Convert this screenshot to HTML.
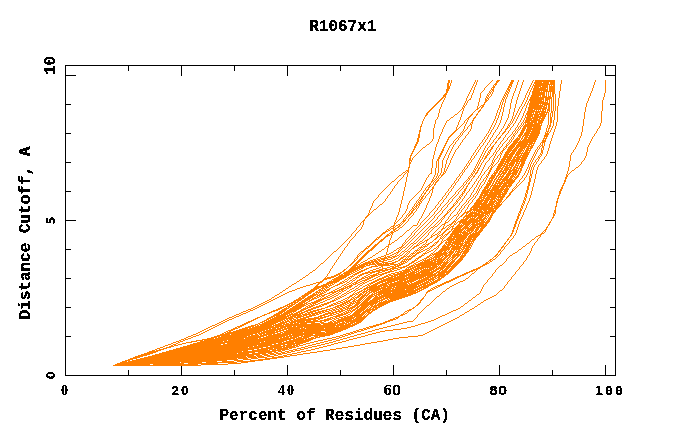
<!DOCTYPE html>
<html><head><meta charset="utf-8"><title>R1067x1</title>
<style>
html,body{margin:0;padding:0;background:#fff;}
body{width:680px;height:440px;overflow:hidden;}
svg{display:block;}
text{fill:#000;font-weight:bold;}
.m{font-family:"Liberation Mono",monospace;font-size:16px;}
</style></head><body>
<svg width="680" height="440" viewBox="0 0 680 440">
<defs><filter id="bw" x="-5%" y="-5%" width="110%" height="110%" color-interpolation-filters="sRGB"><feComponentTransfer><feFuncA type="discrete" tableValues="0 0 1 1 1 1"/></feComponentTransfer></filter><filter id="bw2" x="-5%" y="-5%" width="110%" height="110%" color-interpolation-filters="sRGB"><feComponentTransfer><feFuncA type="discrete" tableValues="0 0 0 1 1 1 1 1"/></feComponentTransfer></filter></defs>
<rect width="680" height="440" fill="#fff"/>
<g fill="none" stroke="#000" stroke-width="1" shape-rendering="crispEdges"><path d="M65.5 65.5H615.5V375.5H65.5ZM128.5 375.5v-5.5M128.5 65.5v5.5M181.5 375.5v-10.5M181.5 65.5v10.5M234.5 375.5v-5.5M234.5 65.5v5.5M287.5 375.5v-10.5M287.5 65.5v10.5M340.5 375.5v-5.5M340.5 65.5v5.5M393.5 375.5v-10.5M393.5 65.5v10.5M446.5 375.5v-5.5M446.5 65.5v5.5M499.5 375.5v-10.5M499.5 65.5v10.5M552.5 375.5v-5.5M552.5 65.5v5.5M605.5 375.5v-10.5M605.5 65.5v10.5M65.5 75.5h10.5M615.5 75.5h-10.5M65.5 104.5h5.5M615.5 104.5h-5.5M65.5 133.5h5.5M615.5 133.5h-5.5M65.5 162.5h5.5M615.5 162.5h-5.5M65.5 191.5h5.5M615.5 191.5h-5.5M65.5 220.5h10.5M615.5 220.5h-10.5M65.5 249.5h5.5M615.5 249.5h-5.5M65.5 278.5h5.5M615.5 278.5h-5.5M65.5 307.5h5.5M615.5 307.5h-5.5M65.5 336.5h5.5M615.5 336.5h-5.5"/></g>
<g fill="none" stroke="#ff7f00" stroke-width="1" shape-rendering="crispEdges" stroke-linejoin="bevel">
<path d="M448 80.5h2m1 0h1m23 0h1m1 0h1m14 0h1m4 0h3m11 0h3m4 0h1m4 0h1m9 0h1m1 0h20m6 0h1m33 0h1m9 0h1M448 81.5h2m1 0h1m23 0h1m1 0h1m13 0h1m4 0h3m12 0h3m4 0h1m4 0h1m8 0h1m2 0h20m6 0h1m33 0h1m9 0h1M448 82.5h2m1 0h1m22 0h1m1 0h1m13 0h1m5 0h2m12 0h3m4 0h1m4 0h1m9 0h1m1 0h8m1 0h6m1 0h5m6 0h1m32 0h1m10 0h1M447 83.5h2m1 0h1m23 0h1m1 0h1m12 0h1m5 0h2m13 0h3m4 0h1m4 0h1m8 0h1m2 0h15m1 0h5m6 0h1m32 0h1m10 0h1M447 84.5h2m1 0h1m22 0h1m2 0h1m11 0h1m5 0h3m12 0h3m5 0h1m4 0h1m8 0h1m1 0h1m1 0h20m5 0h1m33 0h1m10 0h1M447 85.5h2m1 0h1m22 0h1m1 0h1m11 0h1m5 0h1m1 0h1m13 0h3m4 0h1m4 0h1m8 0h1m2 0h15m1 0h1m1 0h1m1 0h2m5 0h1m32 0h1m11 0h1M447 86.5h3m22 0h1m2 0h1m10 0h1m6 0h2m13 0h2m1 0h1m4 0h1m4 0h1m8 0h1m1 0h1m1 0h7m1 0h6m1 0h6m5 0h1m32 0h1m11 0h1M447 87.5h3m22 0h1m1 0h1m10 0h1m6 0h3m13 0h3m5 0h1m4 0h1m7 0h1m2 0h1m1 0h5m1 0h8m1 0h6m5 0h1m32 0h1m11 0h1M447 88.5h3m21 0h1m2 0h1m9 0h1m6 0h1m1 0h1m13 0h2m1 0h1m4 0h1m4 0h1m8 0h1m1 0h1m1 0h13m1 0h1m1 0h6m5 0h1m31 0h1m12 0h1M446 89.5h3m22 0h1m2 0h1m9 0h1m6 0h3m13 0h3m5 0h1m4 0h1m7 0h1m2 0h1m1 0h15m1 0h6m5 0h1m31 0h1m12 0h1M446 90.5h3m21 0h1m2 0h1m9 0h1m6 0h1m1 0h2m12 0h1m1 0h2m5 0h1m4 0h1m7 0h1m1 0h1m2 0h15m1 0h6m5 0h1m31 0h1m12 0h1M446 91.5h2m22 0h1m2 0h1m8 0h1m6 0h1m1 0h1m1 0h1m12 0h2m1 0h1m4 0h1m4 0h1m7 0h1m2 0h1m1 0h8m1 0h1m1 0h12m4 0h1m31 0h1m13 0h1M446 92.5h2m21 0h1m3 0h1m7 0h1m7 0h2m1 0h1m12 0h1m1 0h2m5 0h1m4 0h1m7 0h1m1 0h1m2 0h13m1 0h1m1 0h1m1 0h1m1 0h3m4 0h1m31 0h1m13 0h1M445 93.5h2m22 0h1m2 0h1m7 0h1m7 0h1m1 0h1m1 0h1m12 0h2m1 0h1m4 0h1m5 0h1m6 0h1m2 0h1m2 0h13m1 0h1m1 0h1m1 0h1m1 0h3m4 0h1m30 0h1m13 0h1M444 94.5h3m21 0h1m3 0h1m7 0h1m6 0h1m1 0h1m1 0h1m12 0h1m1 0h2m5 0h1m4 0h1m7 0h1m2 0h1m2 0h13m1 0h1m1 0h1m1 0h1m1 0h2m1 0h1m3 0h1m30 0h1m13 0h1M443 95.5h3m22 0h1m2 0h1m8 0h1m6 0h2m2 0h1m12 0h2m1 0h1m5 0h1m4 0h1m6 0h1m2 0h1m2 0h10m1 0h3m1 0h1m1 0h1m1 0h1m1 0h2m1 0h1m3 0h1m30 0h1m13 0h1M443 96.5h3m21 0h1m3 0h1m8 0h1m5 0h1m1 0h1m1 0h1m12 0h1m1 0h1m1 0h1m4 0h1m5 0h1m6 0h1m2 0h1m2 0h8m1 0h1m1 0h5m1 0h3m1 0h2m1 0h1m3 0h1m29 0h1m14 0h1M442 97.5h2m1 0h1m21 0h1m3 0h1m8 0h1m5 0h2m1 0h1m13 0h2m1 0h1m5 0h1m4 0h1m7 0h1m1 0h1m2 0h22m1 0h1m1 0h1m3 0h1m29 0h1m13 0h1M441 98.5h2m1 0h1m21 0h1m3 0h1m8 0h1m5 0h1m1 0h2m13 0h1m1 0h1m1 0h1m5 0h1m4 0h1m6 0h1m2 0h1m2 0h14m1 0h7m1 0h1m1 0h1m2 0h1m29 0h1m14 0h1M440 99.5h2m2 0h1m21 0h1m2 0h2m8 0h1m5 0h2m1 0h1m13 0h2m1 0h1m5 0h1m5 0h1m6 0h1m2 0h1m1 0h15m1 0h5m1 0h1m1 0h1m1 0h1m2 0h1m29 0h1m14 0h1M439 100.5h2m2 0h1m22 0h1m1 0h1m10 0h1m5 0h3m13 0h1m1 0h1m1 0h1m5 0h1m4 0h1m6 0h1m2 0h1m2 0h13m1 0h1m1 0h3m1 0h1m1 0h1m1 0h1m1 0h1m2 0h1m29 0h1m13 0h1M438 101.5h2m3 0h1m21 0h1m1 0h1m11 0h1m5 0h2m14 0h1m1 0h1m1 0h1m5 0h1m4 0h1m6 0h1m2 0h1m1 0h1m1 0h14m1 0h1m1 0h1m1 0h1m1 0h1m1 0h1m1 0h1m2 0h1m28 0h1m14 0h1M437 102.5h2m3 0h1m22 0h1m1 0h1m10 0h1m5 0h2m14 0h1m1 0h1m2 0h1m5 0h1m4 0h1m5 0h1m2 0h1m2 0h1m1 0h18m1 0h1m1 0h1m1 0h1m1 0h1m2 0h1m28 0h1m14 0h1M436 103.5h2m4 0h1m21 0h1m1 0h1m11 0h1m5 0h1m15 0h1m1 0h1m1 0h1m5 0h1m5 0h1m5 0h1m2 0h1m1 0h1m1 0h21m1 0h1m1 0h1m1 0h1m2 0h1m27 0h1m15 0h1M435 104.5h2m4 0h1m22 0h1m1 0h1m11 0h1m4 0h2m15 0h1m1 0h1m1 0h1m5 0h1m4 0h1m5 0h1m2 0h1m2 0h1m1 0h10m1 0h1m1 0h8m1 0h1m1 0h1m1 0h1m2 0h1m27 0h1m15 0h1M434 105.5h2m5 0h1m21 0h1m1 0h1m12 0h1m2 0h3m15 0h1m1 0h1m2 0h1m5 0h1m4 0h1m5 0h1m2 0h1m1 0h1m2 0h14m1 0h3m1 0h2m1 0h1m1 0h1m1 0h1m2 0h1m27 0h1m15 0h1M433 106.5h2m6 0h1m21 0h2m12 0h1m2 0h1m1 0h2m15 0h1m1 0h1m2 0h1m5 0h1m4 0h1m4 0h1m2 0h1m2 0h1m2 0h16m1 0h1m1 0h2m1 0h1m1 0h1m1 0h1m1 0h1m28 0h1m15 0h1M432 107.5h2m6 0h1m21 0h1m1 0h1m12 0h1m1 0h1m1 0h2m16 0h1m1 0h1m1 0h1m6 0h1m4 0h1m3 0h1m2 0h1m3 0h1m1 0h14m1 0h4m1 0h2m1 0h1m1 0h1m1 0h1m1 0h1m27 0h1m16 0h1M431 108.5h2m7 0h1m21 0h2m13 0h2m2 0h1m16 0h1m2 0h1m1 0h1m6 0h1m3 0h1m4 0h1m2 0h1m2 0h1m2 0h19m1 0h2m1 0h1m1 0h1m1 0h1m1 0h1m27 0h1m16 0h1M430 109.5h2m7 0h1m21 0h1m1 0h1m12 0h2m2 0h1m17 0h1m1 0h1m2 0h1m5 0h1m4 0h1m3 0h1m2 0h1m3 0h1m2 0h5m1 0h7m1 0h4m1 0h3m1 0h1m1 0h1m1 0h1m1 0h1m27 0h1m16 0h1M429 110.5h2m8 0h1m20 0h1m2 0h1m11 0h1m3 0h2m16 0h1m2 0h1m2 0h1m5 0h1m4 0h1m3 0h1m2 0h1m3 0h1m2 0h7m1 0h1m1 0h1m1 0h1m1 0h2m1 0h1m1 0h3m1 0h1m1 0h1m1 0h1m1 0h1m27 0h1m16 0h1M428 111.5h2m9 0h1m19 0h1m2 0h1m11 0h1m3 0h2m17 0h1m2 0h1m2 0h1m5 0h1m4 0h1m2 0h1m2 0h1m3 0h1m2 0h19m1 0h1m1 0h1m1 0h2m1 0h1m2 0h1m27 0h1m15 0h1M427 112.5h2m10 0h1m18 0h1m3 0h1m10 0h1m4 0h1m18 0h1m1 0h1m2 0h1m6 0h1m3 0h1m3 0h1m2 0h1m3 0h1m2 0h7m1 0h5m1 0h8m2 0h2m1 0h1m2 0h1m26 0h1m16 0h1M426 113.5h2m10 0h1m18 0h1m4 0h1m9 0h1m4 0h1m18 0h1m2 0h1m2 0h1m6 0h1m3 0h1m2 0h1m2 0h1m3 0h1m2 0h6m1 0h1m1 0h3m1 0h6m1 0h1m1 0h1m1 0h1m1 0h1m1 0h1m2 0h1m26 0h1m16 0h1M426 114.5h2m10 0h1m16 0h2m4 0h1m9 0h2m3 0h2m18 0h1m2 0h1m2 0h1m5 0h1m4 0h1m2 0h1m2 0h1m3 0h1m2 0h21m1 0h1m1 0h1m1 0h1m1 0h1m2 0h1m26 0h1m16 0h1M425 115.5h2m11 0h1m15 0h1m6 0h1m8 0h2m4 0h1m19 0h1m1 0h1m3 0h1m5 0h1m4 0h1m1 0h1m2 0h1m4 0h1m1 0h1m1 0h6m1 0h5m1 0h6m2 0h1m1 0h1m1 0h1m1 0h1m2 0h1m26 0h1m16 0h1M425 116.5h1m12 0h1m14 0h1m7 0h1m7 0h2m4 0h1m19 0h1m2 0h1m2 0h1m6 0h1m3 0h1m2 0h1m2 0h1m3 0h1m2 0h1m1 0h6m1 0h12m2 0h1m1 0h1m1 0h1m1 0h1m2 0h1m26 0h1m16 0h1M424 117.5h1m12 0h1m13 0h2m7 0h1m7 0h2m4 0h2m19 0h1m2 0h1m2 0h1m6 0h1m3 0h1m1 0h1m2 0h1m4 0h1m2 0h6m1 0h9m1 0h3m3 0h1m1 0h2m2 0h1m2 0h1m26 0h1m16 0h1M424 118.5h1m12 0h1m12 0h1m9 0h1m6 0h2m4 0h2m20 0h1m1 0h1m3 0h1m5 0h1m4 0h1m1 0h1m2 0h1m3 0h1m2 0h1m1 0h12m1 0h6m3 0h1m1 0h2m2 0h1m2 0h1m26 0h1m16 0h1M423 119.5h1m12 0h1m12 0h1m10 0h1m5 0h1m1 0h1m4 0h1m20 0h1m2 0h1m3 0h1m5 0h1m3 0h1m1 0h1m2 0h1m4 0h1m2 0h1m1 0h6m1 0h7m1 0h3m4 0h1m1 0h2m2 0h1m2 0h1m25 0h1m17 0h1M423 120.5h1m11 0h1m11 0h2m10 0h1m5 0h1m1 0h1m4 0h2m20 0h1m1 0h1m3 0h1m5 0h1m4 0h1m1 0h1m2 0h1m3 0h1m2 0h1m1 0h19m4 0h1m1 0h2m1 0h1m3 0h1m25 0h1m17 0h1M422 121.5h1m12 0h1m10 0h1m12 0h1m4 0h1m2 0h1m4 0h1m20 0h1m2 0h1m3 0h1m5 0h1m3 0h1m1 0h1m2 0h1m4 0h1m2 0h1m1 0h5m1 0h6m1 0h5m5 0h1m1 0h2m1 0h1m3 0h1m25 0h1m17 0h1M422 122.5h1m12 0h1m10 0h1m11 0h1m5 0h1m1 0h1m4 0h2m20 0h1m2 0h1m3 0h1m4 0h1m4 0h1m1 0h1m2 0h1m3 0h1m2 0h1m1 0h13m1 0h5m5 0h1m1 0h2m1 0h1m2 0h1m26 0h1m17 0h1M422 123.5h1m12 0h1m9 0h1m12 0h1m4 0h1m2 0h1m3 0h1m1 0h1m19 0h1m2 0h1m3 0h1m5 0h1m3 0h1m1 0h1m2 0h1m3 0h1m2 0h1m1 0h1m1 0h1m1 0h6m1 0h8m6 0h1m1 0h1m2 0h1m2 0h1m26 0h1m16 0h1M421 124.5h1m12 0h1m10 0h1m12 0h1m3 0h1m2 0h1m4 0h2m20 0h1m2 0h1m3 0h1m4 0h1m3 0h1m1 0h1m2 0h1m4 0h1m2 0h1m1 0h1m1 0h15m1 0h1m6 0h1m1 0h1m2 0h1m2 0h1m26 0h1m16 0h1M421 125.5h1m12 0h1m9 0h1m12 0h1m3 0h1m3 0h1m3 0h1m1 0h1m19 0h1m2 0h1m3 0h1m5 0h1m3 0h2m3 0h1m3 0h1m2 0h1m1 0h1m1 0h18m5 0h1m1 0h2m2 0h1m2 0h1m26 0h1m16 0h1M420 126.5h2m12 0h1m9 0h1m12 0h1m2 0h1m3 0h1m3 0h1m2 0h1m19 0h1m2 0h1m3 0h1m4 0h1m3 0h1m1 0h1m2 0h1m4 0h1m1 0h1m1 0h1m1 0h18m6 0h1m1 0h2m1 0h1m2 0h1m26 0h1m16 0h1M420 127.5h1m13 0h1m8 0h1m12 0h1m2 0h1m4 0h1m2 0h1m3 0h1m18 0h1m2 0h1m3 0h1m5 0h1m3 0h2m2 0h1m4 0h1m1 0h1m1 0h1m2 0h3m1 0h5m1 0h8m6 0h1m1 0h1m2 0h1m2 0h1m26 0h1m16 0h1M420 128.5h1m12 0h1m9 0h1m12 0h1m1 0h1m5 0h1m2 0h1m3 0h1m18 0h1m2 0h1m3 0h1m4 0h1m3 0h2m2 0h1m4 0h1m2 0h1m1 0h1m1 0h4m1 0h14m5 0h1m1 0h2m1 0h1m3 0h1m26 0h1m15 0h1M420 129.5h1m12 0h1m8 0h1m13 0h2m5 0h1m2 0h1m3 0h1m18 0h1m2 0h1m3 0h1m4 0h1m3 0h2m3 0h1m4 0h1m1 0h1m1 0h1m2 0h3m1 0h15m5 0h1m1 0h1m2 0h1m2 0h1m27 0h1m14 0h1M419 130.5h2m12 0h1m8 0h1m12 0h2m6 0h1m1 0h1m4 0h1m18 0h1m1 0h1m3 0h1m5 0h1m3 0h1m3 0h1m4 0h1m1 0h1m1 0h1m2 0h4m1 0h5m1 0h8m6 0h1m1 0h1m1 0h1m3 0h1m27 0h1m14 0h1M419 131.5h2m12 0h1m8 0h1m11 0h2m6 0h1m1 0h1m4 0h1m18 0h1m2 0h1m3 0h1m4 0h1m3 0h2m2 0h1m4 0h1m1 0h1m1 0h1m3 0h3m2 0h14m6 0h3m1 0h1m3 0h1m27 0h1m13 0h1M419 132.5h1m13 0h1m7 0h1m11 0h2m6 0h1m1 0h1m4 0h1m19 0h1m1 0h1m3 0h1m4 0h1m3 0h2m3 0h1m3 0h1m2 0h1m1 0h1m2 0h4m1 0h5m1 0h9m5 0h1m1 0h1m1 0h1m3 0h1m27 0h1m14 0h1M419 133.5h1m13 0h1m7 0h1m10 0h2m6 0h1m1 0h1m5 0h1m18 0h1m2 0h1m2 0h1m5 0h1m2 0h2m3 0h1m4 0h1m1 0h1m1 0h1m3 0h3m1 0h16m5 0h4m4 0h1m27 0h1m13 0h1M418 134.5h2m13 0h1m6 0h1m10 0h2m7 0h1m1 0h1m4 0h1m18 0h1m2 0h1m3 0h1m4 0h1m3 0h1m3 0h1m4 0h1m1 0h1m1 0h1m3 0h4m1 0h5m1 0h9m6 0h4m4 0h1m27 0h1m12 0h1M418 135.5h2m13 0h1m6 0h1m9 0h2m7 0h1m1 0h1m4 0h1m19 0h1m1 0h1m3 0h1m4 0h1m3 0h1m3 0h1m4 0h1m2 0h2m3 0h4m1 0h16m5 0h4m4 0h1m28 0h1m12 0h1M418 136.5h2m13 0h1m5 0h1m9 0h2m7 0h1m1 0h1m4 0h1m19 0h1m2 0h1m3 0h1m3 0h1m3 0h1m4 0h1m3 0h1m2 0h1m1 0h1m3 0h3m1 0h2m1 0h3m1 0h9m6 0h4m4 0h1m27 0h1m12 0h1M418 137.5h2m13 0h1m5 0h1m8 0h2m7 0h1m1 0h1m5 0h1m18 0h1m2 0h1m3 0h1m4 0h1m2 0h2m3 0h1m3 0h1m2 0h1m1 0h1m3 0h1m1 0h2m1 0h1m1 0h14m6 0h1m1 0h1m5 0h1m27 0h1m11 0h1M417 138.5h2m14 0h1m5 0h1m8 0h1m7 0h1m1 0h1m5 0h1m19 0h1m2 0h1m2 0h1m4 0h1m2 0h2m3 0h1m3 0h1m3 0h1m1 0h1m2 0h4m1 0h2m1 0h3m1 0h9m6 0h4m4 0h1m27 0h1m12 0h1M417 139.5h2m13 0h1m5 0h1m8 0h2m6 0h1m2 0h1m4 0h1m19 0h1m2 0h1m3 0h1m3 0h1m3 0h1m4 0h1m3 0h1m2 0h1m1 0h1m2 0h5m1 0h1m1 0h14m6 0h1m1 0h1m5 0h1m27 0h1m11 0h1M417 140.5h2m13 0h1m5 0h1m8 0h1m6 0h1m2 0h1m4 0h1m19 0h1m2 0h1m3 0h1m3 0h1m3 0h1m4 0h1m3 0h1m2 0h1m1 0h1m2 0h5m1 0h1m1 0h14m6 0h4m5 0h1m27 0h1m11 0h1M417 141.5h2m12 0h1m6 0h1m7 0h2m5 0h1m2 0h1m5 0h1m19 0h1m2 0h1m3 0h1m3 0h1m2 0h1m4 0h1m3 0h1m3 0h1m1 0h1m1 0h5m1 0h17m6 0h4m4 0h1m27 0h1m11 0h1M416 142.5h2m12 0h1m6 0h1m8 0h1m6 0h1m1 0h1m5 0h1m19 0h1m2 0h1m3 0h1m3 0h1m2 0h2m3 0h1m3 0h1m3 0h1m1 0h1m2 0h20m1 0h1m6 0h4m5 0h1m27 0h1m11 0h1M416 143.5h2m11 0h1m7 0h1m7 0h2m5 0h1m2 0h1m4 0h1m19 0h1m2 0h1m3 0h1m3 0h1m3 0h1m4 0h1m2 0h1m3 0h1m1 0h1m2 0h5m1 0h10m1 0h6m5 0h1m1 0h1m1 0h1m5 0h1m26 0h1m11 0h1M415 144.5h2m10 0h2m7 0h1m8 0h1m5 0h1m2 0h1m5 0h1m18 0h1m3 0h1m3 0h1m2 0h1m3 0h1m4 0h1m2 0h1m3 0h1m1 0h1m2 0h5m1 0h15m1 0h1m6 0h1m1 0h1m1 0h1m4 0h1m27 0h1m11 0h1M415 145.5h2m9 0h1m9 0h1m7 0h2m4 0h1m2 0h1m5 0h1m19 0h1m2 0h1m3 0h1m3 0h1m2 0h1m4 0h1m3 0h1m3 0h2m2 0h5m1 0h11m1 0h2m1 0h3m5 0h1m1 0h2m1 0h1m4 0h1m26 0h1m11 0h1M414 146.5h2m9 0h1m10 0h1m7 0h1m4 0h1m3 0h1m4 0h1m19 0h1m2 0h1m3 0h1m3 0h1m2 0h2m4 0h1m2 0h1m3 0h2m2 0h6m1 0h17m5 0h1m1 0h1m1 0h2m5 0h1m26 0h1m11 0h1M414 147.5h2m7 0h2m10 0h1m7 0h2m4 0h1m2 0h1m5 0h1m18 0h1m2 0h1m4 0h1m2 0h1m2 0h2m4 0h1m2 0h1m3 0h1m1 0h1m1 0h6m1 0h4m1 0h6m1 0h2m1 0h3m4 0h1m1 0h1m2 0h2m5 0h1m25 0h1m11 0h1M414 148.5h1m7 0h1m12 0h1m7 0h1m4 0h1m3 0h1m4 0h1m19 0h1m2 0h1m3 0h1m2 0h1m3 0h2m3 0h1m2 0h1m3 0h1m1 0h1m2 0h5m1 0h4m1 0h6m1 0h6m5 0h1m1 0h1m1 0h1m1 0h1m4 0h1m26 0h1m11 0h1M413 149.5h2m6 0h1m13 0h1m6 0h2m4 0h1m2 0h1m4 0h1m19 0h1m2 0h1m4 0h1m2 0h1m2 0h2m4 0h1m2 0h1m3 0h2m2 0h5m1 0h4m1 0h5m1 0h1m1 0h3m1 0h1m5 0h1m1 0h1m2 0h1m1 0h1m4 0h1m25 0h1m12 0h1M413 150.5h1m6 0h1m14 0h1m6 0h2m3 0h1m3 0h1m3 0h1m19 0h1m2 0h1m4 0h1m2 0h1m2 0h2m4 0h1m2 0h1m3 0h2m3 0h10m1 0h6m1 0h6m4 0h1m1 0h1m3 0h2m5 0h1m24 0h1m13 0h1M412 151.5h2m5 0h1m14 0h1m6 0h2m4 0h1m2 0h1m4 0h1m19 0h1m2 0h1m4 0h1m1 0h1m2 0h1m1 0h1m4 0h1m1 0h1m3 0h2m3 0h5m1 0h4m1 0h5m1 0h1m1 0h3m1 0h1m5 0h1m1 0h1m3 0h2m4 0h1m25 0h1m13 0h1M412 152.5h1m5 0h1m15 0h1m6 0h2m3 0h1m3 0h1m3 0h1m19 0h1m2 0h1m4 0h1m2 0h1m2 0h2m4 0h1m1 0h1m3 0h1m1 0h1m2 0h5m1 0h4m1 0h5m1 0h1m1 0h6m4 0h1m1 0h1m4 0h2m4 0h1m24 0h1m13 0h1M411 153.5h2m4 0h1m16 0h1m5 0h2m4 0h1m2 0h1m4 0h1m18 0h1m2 0h1m5 0h1m1 0h1m2 0h1m1 0h1m3 0h1m2 0h1m3 0h2m3 0h4m1 0h5m1 0h13m5 0h1m1 0h1m3 0h1m1 0h1m4 0h1m23 0h1m14 0h1M411 154.5h1m4 0h1m17 0h1m5 0h2m3 0h1m3 0h1m3 0h1m19 0h1m2 0h1m4 0h1m2 0h1m2 0h2m4 0h1m1 0h1m3 0h1m1 0h1m2 0h10m1 0h5m1 0h1m1 0h6m4 0h1m1 0h1m4 0h2m4 0h1m24 0h1m14 0h1M410 155.5h2m3 0h1m17 0h1m5 0h2m4 0h1m2 0h1m4 0h1m18 0h1m2 0h1m5 0h1m1 0h1m2 0h2m4 0h1m2 0h1m2 0h1m1 0h1m3 0h4m1 0h4m2 0h4m1 0h8m5 0h1m1 0h1m3 0h1m1 0h1m4 0h1m23 0h1m15 0h1M410 156.5h1m3 0h1m18 0h1m5 0h2m3 0h1m3 0h1m3 0h1m18 0h1m2 0h1m5 0h1m2 0h1m1 0h2m4 0h1m2 0h1m2 0h1m2 0h1m2 0h10m1 0h2m1 0h4m1 0h6m4 0h1m1 0h1m3 0h1m1 0h1m4 0h1m24 0h1m14 0h1M410 157.5h1m2 0h1m19 0h1m4 0h2m4 0h1m3 0h1m3 0h1m18 0h1m2 0h1m5 0h1m1 0h1m2 0h2m3 0h1m3 0h1m2 0h1m2 0h1m2 0h9m1 0h14m5 0h1m1 0h1m3 0h2m4 0h1m25 0h1m14 0h1M409 158.5h2m1 0h1m20 0h1m4 0h2m3 0h1m3 0h1m3 0h1m18 0h1m2 0h1m5 0h1m2 0h1m1 0h2m3 0h1m3 0h1m2 0h1m2 0h1m2 0h4m1 0h5m1 0h2m1 0h4m1 0h6m4 0h1m1 0h1m3 0h1m1 0h1m4 0h1m25 0h1m13 0h1M409 159.5h2m1 0h1m19 0h1m4 0h2m4 0h1m3 0h1m3 0h1m18 0h1m1 0h1m6 0h1m1 0h1m2 0h1m4 0h1m3 0h1m1 0h1m3 0h1m1 0h10m1 0h14m5 0h1m1 0h1m2 0h1m1 0h1m4 0h1m26 0h1m13 0h1M409 160.5h3m20 0h1m4 0h2m3 0h1m3 0h1m3 0h1m18 0h1m1 0h1m6 0h1m1 0h1m2 0h1m4 0h1m3 0h1m1 0h1m3 0h1m2 0h4m1 0h13m1 0h6m4 0h1m1 0h1m2 0h1m2 0h1m3 0h1m27 0h1m12 0h1M409 161.5h1m1 0h1m20 0h1m3 0h1m1 0h1m3 0h1m3 0h1m3 0h1m17 0h1m2 0h1m6 0h1m1 0h1m2 0h1m3 0h1m4 0h1m1 0h1m3 0h1m1 0h10m1 0h14m5 0h1m1 0h1m2 0h1m1 0h1m3 0h1m27 0h1m12 0h1M409 162.5h2m21 0h1m3 0h1m1 0h1m3 0h1m3 0h1m3 0h1m17 0h1m1 0h1m6 0h1m1 0h1m2 0h1m3 0h1m5 0h2m3 0h1m2 0h4m1 0h4m1 0h5m1 0h2m1 0h1m1 0h4m4 0h1m1 0h1m2 0h1m1 0h1m4 0h1m27 0h1m11 0h1M409 163.5h2m21 0h1m3 0h1m1 0h1m3 0h1m3 0h1m2 0h1m17 0h1m1 0h1m7 0h1m1 0h1m1 0h1m3 0h1m5 0h1m1 0h1m2 0h1m2 0h7m1 0h8m1 0h4m1 0h4m4 0h1m1 0h1m1 0h1m2 0h1m3 0h1m28 0h1m11 0h1M409 164.5h1m22 0h1m3 0h1m1 0h1m3 0h1m2 0h1m3 0h1m16 0h1m2 0h1m6 0h1m1 0h1m2 0h1m3 0h1m5 0h2m2 0h1m2 0h5m1 0h4m1 0h5m1 0h2m1 0h1m1 0h4m4 0h1m1 0h1m2 0h1m1 0h1m3 0h1m29 0h1m10 0h1M409 165.5h1m22 0h1m3 0h1m1 0h1m3 0h1m2 0h1m2 0h1m17 0h1m1 0h1m7 0h1m1 0h1m1 0h1m3 0h1m5 0h1m1 0h1m1 0h1m3 0h7m1 0h8m1 0h4m1 0h4m4 0h1m1 0h1m1 0h1m1 0h1m3 0h1m30 0h1m9 0h1M409 166.5h1m22 0h1m3 0h1m1 0h1m3 0h1m2 0h1m2 0h1m16 0h1m1 0h1m7 0h1m1 0h1m2 0h1m3 0h1m4 0h1m1 0h1m1 0h1m3 0h5m1 0h5m1 0h1m1 0h2m1 0h2m1 0h1m1 0h4m5 0h1m1 0h1m1 0h1m1 0h1m3 0h1m30 0h1m8 0h1M408 167.5h2m22 0h1m3 0h1m1 0h1m3 0h1m2 0h1m1 0h1m16 0h1m2 0h1m7 0h1m1 0h1m1 0h1m3 0h1m4 0h1m2 0h2m4 0h4m1 0h2m1 0h7m1 0h5m1 0h1m1 0h2m4 0h1m1 0h1m1 0h1m1 0h1m3 0h1m30 0h1m7 0h2M408 168.5h1m22 0h1m3 0h1m2 0h1m2 0h1m2 0h1m2 0h1m16 0h1m1 0h1m7 0h1m1 0h1m1 0h2m3 0h1m4 0h1m1 0h2m4 0h7m1 0h5m1 0h2m1 0h2m1 0h6m5 0h1m1 0h1m1 0h1m1 0h1m3 0h1m30 0h1m6 0h1M408 169.5h1m22 0h1m3 0h1m2 0h1m2 0h1m2 0h1m1 0h1m16 0h1m1 0h1m8 0h2m2 0h1m3 0h1m4 0h1m2 0h2m4 0h4m1 0h2m1 0h7m1 0h5m1 0h1m1 0h2m4 0h1m2 0h1m1 0h1m1 0h1m3 0h1m30 0h1m5 0h1M406 170.5h3m22 0h1m3 0h1m2 0h1m2 0h1m2 0h1m1 0h1m15 0h1m1 0h1m8 0h1m1 0h1m1 0h2m3 0h1m3 0h1m2 0h2m4 0h4m1 0h2m1 0h5m1 0h10m1 0h2m4 0h1m1 0h1m1 0h1m1 0h1m3 0h1m31 0h1m3 0h2M405 171.5h1m1 0h2m22 0h1m3 0h1m2 0h1m2 0h1m2 0h2m16 0h1m1 0h1m8 0h2m2 0h1m3 0h1m3 0h1m3 0h2m3 0h1m1 0h2m1 0h5m1 0h2m1 0h4m1 0h5m1 0h2m4 0h1m2 0h1m1 0h1m1 0h1m3 0h1m30 0h1m3 0h1M403 172.5h2m1 0h1m1 0h1m22 0h1m3 0h1m2 0h1m2 0h1m1 0h1m1 0h1m15 0h1m1 0h1m8 0h1m1 0h1m1 0h2m3 0h1m2 0h1m3 0h2m4 0h4m1 0h2m1 0h5m1 0h3m1 0h6m1 0h2m4 0h1m2 0h1m1 0h1m1 0h1m3 0h1m30 0h1m2 0h1M402 173.5h1m2 0h1m1 0h1m22 0h2m3 0h1m1 0h1m2 0h1m2 0h2m15 0h1m1 0h1m8 0h1m1 0h1m1 0h2m3 0h1m3 0h1m3 0h2m3 0h4m1 0h2m1 0h5m1 0h10m1 0h2m4 0h1m2 0h1m2 0h1m1 0h1m3 0h1m30 0h1m1 0h1M401 174.5h1m2 0h1m2 0h1m21 0h1m5 0h1m1 0h1m2 0h1m1 0h2m15 0h1m2 0h1m8 0h2m2 0h1m4 0h1m2 0h1m3 0h2m3 0h1m1 0h2m2 0h4m1 0h2m1 0h5m1 0h5m1 0h2m4 0h1m2 0h1m2 0h2m3 0h1m30 0h1m1 0h1M399 175.5h2m2 0h1m3 0h1m20 0h1m5 0h1m2 0h1m1 0h1m1 0h2m16 0h1m1 0h1m8 0h1m1 0h1m1 0h1m4 0h1m2 0h1m3 0h1m1 0h1m2 0h5m1 0h2m1 0h1m1 0h2m2 0h4m1 0h3m1 0h1m1 0h2m4 0h1m2 0h1m3 0h2m3 0h1m30 0h2M398 176.5h1m4 0h1m3 0h1m20 0h1m5 0h1m1 0h1m1 0h1m2 0h1m16 0h1m1 0h1m8 0h1m1 0h1m1 0h2m3 0h1m2 0h1m4 0h2m3 0h4m1 0h2m1 0h5m1 0h4m1 0h5m1 0h3m3 0h1m3 0h1m2 0h1m1 0h1m3 0h1m30 0h2M397 177.5h1m4 0h1m3 0h1m20 0h1m5 0h1m2 0h1m1 0h1m1 0h1m16 0h1m2 0h1m7 0h1m1 0h1m2 0h1m4 0h1m2 0h1m3 0h1m1 0h1m2 0h5m1 0h1m1 0h2m1 0h2m1 0h5m1 0h3m1 0h4m4 0h1m2 0h1m3 0h1m1 0h1m3 0h1m29 0h2M396 178.5h1m4 0h1m4 0h1m19 0h1m6 0h1m1 0h1m1 0h1m1 0h1m16 0h1m2 0h1m8 0h2m2 0h1m4 0h1m2 0h1m3 0h1m1 0h1m2 0h5m1 0h2m1 0h1m1 0h2m1 0h5m1 0h3m1 0h1m1 0h2m4 0h1m2 0h1m4 0h2m4 0h1m29 0h2M395 179.5h1m4 0h1m5 0h1m19 0h1m5 0h1m1 0h1m1 0h1m1 0h1m17 0h1m1 0h1m8 0h1m1 0h1m1 0h1m4 0h1m3 0h1m2 0h1m2 0h1m2 0h1m1 0h2m1 0h2m1 0h16m1 0h2m4 0h1m3 0h1m4 0h2m3 0h1m30 0h1M394 180.5h1m4 0h1m6 0h1m18 0h1m6 0h2m1 0h1m1 0h2m16 0h1m2 0h1m7 0h1m1 0h1m2 0h1m4 0h1m2 0h1m3 0h1m1 0h1m2 0h5m1 0h1m1 0h2m1 0h2m1 0h13m4 0h1m3 0h1m5 0h2m3 0h1m29 0h2M392 181.5h2m4 0h1m7 0h1m18 0h1m5 0h2m1 0h1m1 0h2m16 0h1m2 0h1m7 0h1m1 0h1m2 0h1m4 0h1m2 0h1m3 0h1m2 0h1m2 0h4m1 0h2m1 0h4m1 0h4m1 0h9m4 0h1m2 0h1m6 0h2m3 0h1m29 0h2M391 182.5h1m5 0h1m7 0h1m18 0h1m6 0h1m1 0h1m1 0h2m17 0h1m1 0h1m7 0h1m1 0h1m2 0h1m4 0h1m3 0h1m2 0h1m2 0h1m2 0h1m1 0h3m1 0h1m1 0h2m1 0h5m1 0h10m4 0h1m2 0h1m6 0h2m4 0h1m29 0h1M390 183.5h1m6 0h1m7 0h1m18 0h1m5 0h1m2 0h1m1 0h1m17 0h1m1 0h1m7 0h1m2 0h1m1 0h2m4 0h1m2 0h1m2 0h1m3 0h1m2 0h4m1 0h2m1 0h18m4 0h1m2 0h1m7 0h2m3 0h1m29 0h2M389 184.5h1m6 0h1m8 0h1m17 0h1m5 0h2m1 0h1m1 0h2m16 0h1m2 0h1m7 0h1m1 0h1m2 0h1m4 0h1m3 0h1m2 0h1m2 0h1m2 0h5m1 0h1m1 0h2m1 0h1m1 0h3m1 0h4m1 0h4m4 0h1m2 0h1m8 0h2m3 0h1m29 0h1M388 185.5h1m6 0h1m9 0h1m17 0h1m4 0h2m1 0h1m2 0h1m16 0h1m2 0h1m7 0h1m1 0h1m2 0h1m4 0h1m3 0h1m2 0h1m2 0h1m3 0h4m1 0h10m1 0h10m4 0h1m1 0h1m9 0h2m3 0h1m28 0h2M387 186.5h1m6 0h1m10 0h1m16 0h1m4 0h1m1 0h2m2 0h1m17 0h1m1 0h1m7 0h1m1 0h1m2 0h2m4 0h1m3 0h1m2 0h1m1 0h1m3 0h4m1 0h2m1 0h18m4 0h1m1 0h1m9 0h2m4 0h1m28 0h1M386 187.5h1m7 0h1m9 0h1m17 0h1m3 0h1m1 0h2m2 0h2m16 0h1m2 0h1m6 0h1m2 0h1m2 0h1m4 0h1m3 0h1m2 0h1m2 0h1m2 0h5m1 0h1m1 0h8m1 0h4m1 0h2m1 0h1m4 0h1m1 0h1m10 0h2m3 0h1m28 0h2M385 188.5h1m7 0h1m10 0h1m16 0h1m3 0h1m2 0h1m3 0h2m15 0h1m2 0h1m6 0h1m2 0h1m2 0h2m3 0h1m3 0h1m3 0h1m1 0h1m3 0h4m1 0h2m1 0h7m1 0h4m1 0h4m4 0h1m1 0h1m11 0h2m3 0h1m28 0h2M384 189.5h1m7 0h1m11 0h1m16 0h1m3 0h1m1 0h2m2 0h2m15 0h1m2 0h1m6 0h1m2 0h1m2 0h2m3 0h1m4 0h1m2 0h1m1 0h1m3 0h3m1 0h3m1 0h18m3 0h1m1 0h1m12 0h2m3 0h1m27 0h2M383 190.5h1m8 0h1m11 0h1m15 0h1m3 0h1m1 0h2m2 0h1m1 0h1m15 0h1m2 0h1m5 0h1m2 0h1m3 0h2m3 0h1m3 0h1m3 0h1m1 0h1m2 0h21m1 0h4m4 0h2m12 0h2m4 0h1m27 0h2M382 191.5h1m8 0h1m11 0h1m15 0h1m3 0h1m2 0h1m2 0h1m2 0h1m14 0h1m2 0h1m5 0h1m2 0h1m3 0h2m3 0h1m4 0h1m2 0h1m1 0h1m3 0h7m1 0h3m1 0h8m1 0h5m3 0h2m13 0h2m3 0h1m27 0h2M381 192.5h1m8 0h1m12 0h1m14 0h1m4 0h1m1 0h1m3 0h1m2 0h1m13 0h1m2 0h1m5 0h1m2 0h1m3 0h1m1 0h1m2 0h1m4 0h1m3 0h1m1 0h1m2 0h22m1 0h3m3 0h2m14 0h2m3 0h1m27 0h2M380 193.5h1m9 0h1m12 0h1m13 0h1m4 0h1m1 0h2m2 0h1m2 0h1m13 0h1m2 0h1m6 0h1m2 0h1m3 0h2m2 0h1m4 0h1m3 0h1m1 0h1m3 0h7m1 0h12m1 0h5m2 0h2m14 0h1m1 0h1m3 0h1m27 0h2M379 194.5h1m9 0h1m13 0h1m12 0h1m4 0h1m2 0h1m2 0h1m3 0h1m13 0h1m2 0h1m5 0h1m2 0h1m3 0h2m3 0h1m4 0h1m2 0h1m2 0h1m2 0h3m1 0h22m3 0h2m14 0h2m4 0h1m27 0h1M378 195.5h1m9 0h1m14 0h1m11 0h1m5 0h1m1 0h1m2 0h1m4 0h1m12 0h1m2 0h1m5 0h1m2 0h1m3 0h1m1 0h1m2 0h1m4 0h1m2 0h1m2 0h1m3 0h17m1 0h3m1 0h3m3 0h2m15 0h2m3 0h1m27 0h2M378 196.5h1m8 0h1m14 0h1m11 0h1m5 0h1m1 0h2m1 0h1m4 0h1m12 0h1m2 0h1m5 0h1m2 0h1m3 0h1m1 0h1m2 0h1m5 0h1m2 0h1m1 0h1m3 0h3m1 0h3m1 0h18m2 0h2m16 0h2m3 0h1m27 0h1M377 197.5h1m9 0h1m14 0h1m10 0h1m5 0h1m1 0h2m2 0h1m4 0h1m11 0h1m3 0h1m4 0h1m2 0h1m4 0h2m3 0h1m4 0h1m2 0h1m2 0h1m3 0h6m1 0h10m1 0h7m2 0h2m16 0h1m1 0h1m3 0h1m27 0h1M376 198.5h1m9 0h1m15 0h1m9 0h1m6 0h1m1 0h2m1 0h1m4 0h1m12 0h1m2 0h1m4 0h1m2 0h1m4 0h1m1 0h1m2 0h1m4 0h1m2 0h1m2 0h1m3 0h4m1 0h7m1 0h6m1 0h1m1 0h3m3 0h1m17 0h2m3 0h1m27 0h2M375 199.5h1m9 0h1m16 0h1m8 0h1m6 0h1m1 0h2m1 0h1m5 0h1m11 0h1m2 0h1m4 0h1m2 0h1m4 0h1m1 0h1m2 0h1m4 0h1m2 0h1m2 0h1m3 0h3m1 0h3m1 0h10m1 0h7m2 0h1m18 0h2m3 0h1m27 0h1M374 200.5h1m10 0h1m15 0h1m8 0h1m6 0h1m1 0h2m1 0h1m6 0h1m10 0h1m2 0h1m4 0h1m3 0h1m3 0h1m1 0h1m3 0h1m3 0h1m2 0h1m2 0h1m3 0h13m1 0h3m1 0h2m1 0h5m2 0h1m18 0h1m1 0h1m3 0h1m27 0h1M373 201.5h1m10 0h1m16 0h1m7 0h1m6 0h1m1 0h1m1 0h2m6 0h1m10 0h1m3 0h1m4 0h1m2 0h1m4 0h2m3 0h1m4 0h1m1 0h1m3 0h1m3 0h7m1 0h4m1 0h8m1 0h4m1 0h1m19 0h2m3 0h1m27 0h2M373 202.5h1m9 0h1m17 0h1m7 0h1m6 0h1m1 0h2m1 0h1m6 0h1m9 0h1m3 0h1m4 0h1m2 0h1m4 0h1m1 0h1m2 0h1m4 0h1m2 0h1m2 0h1m3 0h7m1 0h5m1 0h6m1 0h5m1 0h1m20 0h2m3 0h1m27 0h2M372 203.5h1m9 0h1m18 0h1m6 0h1m6 0h1m1 0h1m1 0h2m6 0h1m10 0h1m2 0h1m4 0h1m2 0h1m4 0h1m1 0h1m2 0h1m4 0h1m2 0h1m2 0h1m3 0h13m1 0h6m1 0h5m1 0h1m20 0h1m1 0h1m2 0h1m28 0h1M372 204.5h1m7 0h2m18 0h1m7 0h1m5 0h1m1 0h1m1 0h2m7 0h1m9 0h1m2 0h1m4 0h1m2 0h1m4 0h1m1 0h1m3 0h1m3 0h1m2 0h1m2 0h1m4 0h21m1 0h6m20 0h2m3 0h1m28 0h1M372 205.5h1m6 0h1m20 0h1m6 0h1m6 0h1m1 0h2m1 0h1m6 0h1m9 0h1m3 0h1m3 0h1m2 0h1m5 0h2m3 0h1m3 0h1m2 0h1m2 0h1m4 0h7m1 0h12m1 0h7m20 0h1m1 0h1m2 0h1m29 0h1M371 206.5h1m6 0h1m21 0h1m6 0h1m5 0h1m1 0h2m1 0h1m7 0h1m8 0h1m3 0h1m3 0h1m3 0h1m4 0h2m3 0h1m3 0h1m2 0h1m3 0h1m3 0h18m1 0h9m21 0h2m3 0h1m28 0h2M371 207.5h1m5 0h1m22 0h1m6 0h1m4 0h1m1 0h1m1 0h1m1 0h1m7 0h1m8 0h1m2 0h1m3 0h1m3 0h1m4 0h2m3 0h1m4 0h1m2 0h1m2 0h1m3 0h22m1 0h5m22 0h2m3 0h1m28 0h1M370 208.5h1m5 0h1m22 0h1m7 0h1m4 0h2m1 0h1m1 0h1m7 0h1m8 0h1m2 0h1m3 0h1m3 0h1m4 0h2m3 0h1m4 0h1m2 0h1m3 0h1m2 0h2m1 0h5m1 0h19m22 0h1m1 0h1m2 0h1m29 0h1M370 209.5h1m3 0h2m23 0h1m6 0h1m4 0h1m1 0h2m1 0h1m8 0h1m7 0h1m3 0h1m3 0h1m2 0h1m4 0h2m4 0h1m3 0h1m2 0h1m3 0h1m3 0h24m1 0h2m23 0h2m3 0h1m29 0h1M369 210.5h1m3 0h1m25 0h1m6 0h1m3 0h1m1 0h2m2 0h1m7 0h1m7 0h1m3 0h1m3 0h1m2 0h1m4 0h1m1 0h1m3 0h1m4 0h1m1 0h1m3 0h1m3 0h3m1 0h9m1 0h4m1 0h8m24 0h2m2 0h1m29 0h2M369 211.5h1m2 0h1m26 0h1m5 0h1m3 0h1m1 0h2m2 0h1m8 0h1m6 0h1m3 0h1m3 0h1m2 0h1m4 0h1m1 0h1m3 0h1m4 0h1m2 0h1m3 0h1m1 0h4m1 0h1m1 0h1m1 0h7m1 0h12m23 0h2m3 0h1m29 0h2M369 212.5h1m1 0h1m26 0h1m6 0h1m3 0h1m1 0h2m1 0h1m8 0h1m6 0h1m3 0h1m3 0h1m3 0h1m4 0h2m3 0h1m4 0h1m2 0h1m3 0h5m1 0h7m1 0h13m1 0h3m24 0h2m2 0h1m30 0h2M368 213.5h1m1 0h1m27 0h1m5 0h1m3 0h1m1 0h2m1 0h1m9 0h1m5 0h1m4 0h1m2 0h1m3 0h1m4 0h2m3 0h1m5 0h1m1 0h1m3 0h2m1 0h2m1 0h11m1 0h9m1 0h3m24 0h1m1 0h1m2 0h1m29 0h1m1 0h1M368 214.5h2m28 0h1m4 0h1m3 0h1m1 0h2m2 0h1m8 0h1m6 0h1m3 0h1m2 0h1m3 0h1m4 0h2m3 0h1m5 0h1m1 0h1m3 0h2m2 0h1m1 0h5m1 0h10m1 0h3m1 0h1m1 0h2m25 0h2m3 0h1m29 0h2M367 215.5h2m28 0h1m4 0h1m3 0h1m1 0h2m2 0h1m9 0h1m5 0h1m3 0h1m2 0h1m3 0h1m4 0h2m4 0h1m3 0h2m2 0h1m2 0h2m2 0h21m1 0h2m1 0h3m25 0h2m2 0h1m30 0h2M366 216.5h2m29 0h1m4 0h1m3 0h1m1 0h1m2 0h1m9 0h1m5 0h1m3 0h1m2 0h1m3 0h1m4 0h2m4 0h1m3 0h1m3 0h1m2 0h2m2 0h13m1 0h6m1 0h2m1 0h1m1 0h2m25 0h2m3 0h1m30 0h1M365 217.5h2m29 0h1m4 0h1m3 0h1m1 0h1m2 0h1m10 0h1m4 0h1m3 0h1m3 0h1m2 0h1m4 0h1m1 0h1m3 0h1m3 0h1m3 0h1m2 0h1m3 0h2m1 0h5m1 0h1m1 0h2m1 0h6m1 0h2m1 0h1m1 0h3m25 0h2m2 0h1m30 0h2M365 218.5h1m30 0h1m3 0h1m3 0h1m1 0h1m2 0h1m10 0h1m4 0h1m3 0h1m3 0h1m3 0h1m3 0h1m1 0h1m4 0h1m2 0h1m4 0h1m1 0h1m4 0h1m1 0h4m1 0h5m1 0h6m1 0h4m1 0h3m26 0h2m2 0h1m30 0h1M364 219.5h1m31 0h1m2 0h1m3 0h1m1 0h1m2 0h1m10 0h1m4 0h1m3 0h1m3 0h1m3 0h1m3 0h1m1 0h1m4 0h1m2 0h1m4 0h1m1 0h1m3 0h7m1 0h9m1 0h6m1 0h1m1 0h3m25 0h2m2 0h1m30 0h1M363 220.5h2m30 0h1m2 0h1m4 0h3m2 0h1m10 0h1m3 0h1m3 0h1m3 0h1m3 0h1m3 0h1m1 0h1m4 0h1m2 0h1m4 0h1m1 0h1m3 0h7m1 0h16m1 0h1m1 0h3m26 0h2m2 0h1m30 0h1M362 221.5h2m31 0h1m1 0h1m4 0h3m2 0h1m10 0h1m3 0h1m3 0h1m3 0h1m3 0h1m3 0h1m2 0h1m3 0h1m2 0h1m4 0h3m2 0h22m1 0h4m1 0h4m25 0h2m2 0h1m30 0h1M361 222.5h1m1 0h1m30 0h1m1 0h1m4 0h1m1 0h1m2 0h1m11 0h1m2 0h1m3 0h1m3 0h1m3 0h1m3 0h1m2 0h1m4 0h3m4 0h2m1 0h1m1 0h1m1 0h19m1 0h10m26 0h2m2 0h1m29 0h2M360 223.5h1m2 0h1m30 0h2m4 0h1m1 0h1m2 0h1m11 0h1m2 0h1m3 0h1m3 0h1m3 0h1m3 0h1m2 0h1m4 0h2m5 0h2m1 0h1m1 0h1m2 0h2m1 0h9m1 0h3m1 0h8m1 0h3m27 0h2m2 0h1m29 0h1M360 224.5h1m2 0h1m30 0h1m3 0h2m1 0h1m2 0h1m12 0h1m2 0h1m2 0h1m3 0h1m3 0h1m3 0h1m2 0h1m3 0h3m4 0h3m2 0h2m2 0h2m1 0h1m1 0h7m1 0h16m27 0h2m2 0h1m29 0h2M359 225.5h1m2 0h1m30 0h2m1 0h2m1 0h2m2 0h1m9 0h4m2 0h1m2 0h1m3 0h1m3 0h1m3 0h1m2 0h1m3 0h1m2 0h1m2 0h2m1 0h1m2 0h1m3 0h7m1 0h4m1 0h1m1 0h6m1 0h8m27 0h2m2 0h1m29 0h1M358 226.5h1m3 0h1m28 0h3m1 0h1m2 0h2m2 0h1m9 0h1m5 0h1m2 0h1m3 0h1m3 0h1m3 0h1m1 0h2m3 0h1m2 0h1m2 0h1m2 0h1m1 0h3m2 0h7m1 0h4m1 0h1m1 0h5m1 0h9m28 0h2m2 0h1m28 0h1M357 227.5h1m3 0h1m28 0h1m2 0h2m2 0h2m1 0h2m9 0h1m5 0h1m2 0h1m3 0h1m3 0h1m2 0h2m1 0h1m4 0h1m3 0h1m1 0h1m2 0h1m1 0h1m1 0h1m2 0h7m1 0h6m1 0h10m1 0h4m28 0h2m2 0h1m28 0h2M356 228.5h1m4 0h1m27 0h1m1 0h3m1 0h2m2 0h1m10 0h1m5 0h1m2 0h1m3 0h1m3 0h1m2 0h1m2 0h1m4 0h1m3 0h3m2 0h1m1 0h1m2 0h9m1 0h13m1 0h3m1 0h4m29 0h2m2 0h1m28 0h1M356 229.5h1m3 0h1m26 0h2m1 0h1m2 0h3m2 0h1m10 0h1m5 0h1m2 0h1m3 0h1m3 0h1m2 0h1m2 0h1m4 0h1m3 0h2m3 0h3m2 0h2m1 0h10m1 0h1m1 0h7m1 0h4m1 0h3m30 0h1m3 0h1m27 0h2M355 230.5h1m3 0h1m26 0h1m1 0h2m3 0h2m1 0h2m9 0h2m5 0h1m2 0h1m3 0h1m3 0h1m2 0h1m2 0h1m4 0h1m4 0h1m3 0h2m4 0h1m1 0h10m1 0h1m1 0h8m1 0h3m1 0h4m29 0h2m2 0h1m27 0h2M354 231.5h1m3 0h1m26 0h3m3 0h2m1 0h2m10 0h1m6 0h1m2 0h1m3 0h1m3 0h1m2 0h1m2 0h1m4 0h1m3 0h2m3 0h2m3 0h2m1 0h10m1 0h3m1 0h3m1 0h2m1 0h3m1 0h4m30 0h2m2 0h1m26 0h1m1 0h1M353 232.5h1m3 0h1m25 0h3m4 0h4m11 0h1m6 0h1m2 0h1m3 0h1m3 0h1m2 0h1m2 0h1m4 0h1m3 0h1m1 0h1m2 0h2m3 0h2m2 0h16m1 0h3m1 0h1m1 0h6m31 0h1m3 0h1m25 0h1m1 0h1M352 233.5h1m3 0h1m25 0h3m4 0h1m1 0h2m11 0h1m6 0h1m2 0h1m3 0h1m3 0h1m2 0h1m2 0h1m4 0h1m3 0h1m1 0h1m2 0h2m3 0h2m2 0h8m1 0h1m1 0h9m1 0h8m31 0h2m2 0h1m25 0h3M351 234.5h1m3 0h1m25 0h2m4 0h2m1 0h1m1 0h1m10 0h1m7 0h1m2 0h1m2 0h1m3 0h1m2 0h1m3 0h1m3 0h1m2 0h2m1 0h1m2 0h2m2 0h3m2 0h12m1 0h6m1 0h10m31 0h1m3 0h1m24 0h2M351 235.5h1m3 0h1m24 0h2m4 0h4m1 0h1m10 0h1m7 0h1m2 0h1m2 0h1m3 0h1m2 0h1m3 0h1m3 0h1m1 0h2m2 0h1m1 0h2m1 0h1m1 0h1m1 0h1m3 0h3m1 0h14m1 0h10m31 0h2m2 0h1m23 0h3M350 236.5h1m3 0h1m24 0h2m4 0h3m3 0h1m8 0h2m7 0h1m2 0h1m2 0h1m3 0h1m2 0h1m3 0h1m4 0h2m4 0h2m2 0h1m1 0h1m1 0h1m3 0h18m1 0h10m32 0h1m2 0h1m22 0h2m2 0h1M349 237.5h1m3 0h1m23 0h3m4 0h2m5 0h1m7 0h1m8 0h1m2 0h1m2 0h1m3 0h1m2 0h1m3 0h1m4 0h2m4 0h2m2 0h1m1 0h1m1 0h1m3 0h4m1 0h14m1 0h9m32 0h1m3 0h1m21 0h1m3 0h1M348 238.5h1m3 0h1m23 0h1m1 0h1m4 0h2m5 0h1m7 0h1m8 0h1m2 0h1m2 0h1m3 0h1m2 0h1m3 0h1m4 0h1m5 0h2m3 0h2m1 0h1m3 0h8m1 0h10m1 0h5m1 0h3m32 0h1m3 0h1m21 0h1m3 0h1M347 239.5h1m3 0h1m23 0h3m3 0h3m6 0h1m6 0h1m8 0h1m2 0h1m2 0h1m3 0h1m2 0h1m3 0h1m3 0h2m5 0h2m3 0h1m2 0h1m3 0h19m1 0h10m31 0h2m2 0h1m20 0h2m3 0h1M346 240.5h1m3 0h1m23 0h2m4 0h3m6 0h1m5 0h2m8 0h1m2 0h1m2 0h1m3 0h1m2 0h1m3 0h1m2 0h3m5 0h1m4 0h1m3 0h1m1 0h2m1 0h7m1 0h9m1 0h1m1 0h4m1 0h3m32 0h1m2 0h1m20 0h1m5 0h1M345 241.5h1m3 0h1m23 0h2m4 0h3m7 0h1m4 0h1m10 0h1m1 0h1m2 0h1m3 0h1m2 0h1m2 0h2m2 0h1m1 0h1m5 0h1m4 0h2m2 0h1m1 0h1m2 0h1m1 0h4m1 0h11m1 0h9m32 0h1m2 0h1m20 0h1m5 0h1M344 242.5h1m4 0h1m22 0h2m4 0h2m9 0h1m2 0h2m10 0h1m1 0h1m2 0h1m3 0h1m2 0h1m2 0h1m2 0h2m2 0h1m3 0h2m3 0h3m3 0h2m2 0h16m1 0h1m1 0h6m1 0h1m1 0h1m31 0h1m3 0h1m19 0h1m5 0h1M343 243.5h1m4 0h1m22 0h2m4 0h2m10 0h1m1 0h1m11 0h1m1 0h1m2 0h1m2 0h2m1 0h2m2 0h1m1 0h2m3 0h1m2 0h2m4 0h1m1 0h1m3 0h2m3 0h2m1 0h3m1 0h12m1 0h8m31 0h2m2 0h1m18 0h2m5 0h1M342 244.5h1m4 0h1m22 0h2m3 0h3m10 0h3m11 0h1m1 0h1m2 0h1m2 0h1m2 0h1m3 0h1m1 0h1m3 0h2m1 0h3m4 0h1m1 0h1m3 0h2m3 0h1m1 0h7m1 0h9m1 0h3m1 0h3m1 0h1m31 0h1m2 0h1m18 0h1m7 0h1M341 245.5h1m5 0h1m21 0h2m3 0h3m11 0h1m13 0h2m2 0h1m2 0h1m2 0h1m3 0h3m3 0h1m2 0h1m1 0h1m4 0h3m3 0h2m3 0h3m1 0h3m1 0h4m1 0h3m1 0h12m31 0h1m2 0h1m18 0h1m7 0h1M340 246.5h1m5 0h1m20 0h3m3 0h3m10 0h3m12 0h2m2 0h1m2 0h1m2 0h1m2 0h3m4 0h1m1 0h4m3 0h3m4 0h2m3 0h7m1 0h12m1 0h7m1 0h1m30 0h2m1 0h1m17 0h2m7 0h1M339 247.5h1m5 0h1m20 0h1m1 0h1m3 0h3m10 0h1m2 0h1m10 0h3m1 0h2m2 0h1m2 0h1m2 0h2m4 0h4m1 0h1m4 0h1m1 0h1m4 0h1m1 0h1m3 0h9m1 0h9m1 0h3m1 0h5m30 0h2m1 0h1m17 0h1m9 0h1M338 248.5h1m5 0h1m20 0h3m3 0h3m10 0h1m2 0h1m9 0h2m1 0h1m1 0h1m3 0h1m2 0h1m2 0h2m4 0h1m1 0h1m2 0h1m3 0h2m1 0h1m3 0h2m1 0h1m3 0h9m1 0h11m1 0h6m1 0h1m30 0h1m2 0h1m16 0h1m9 0h1M337 249.5h1m6 0h1m19 0h2m4 0h3m9 0h2m3 0h1m8 0h1m2 0h1m1 0h1m3 0h1m2 0h1m2 0h1m5 0h1m1 0h1m1 0h2m2 0h2m2 0h1m3 0h1m2 0h1m3 0h10m1 0h9m1 0h3m1 0h5m30 0h1m2 0h1m15 0h2m10 0h1M336 250.5h1m6 0h1m19 0h2m3 0h4m9 0h1m5 0h1m6 0h2m2 0h1m1 0h1m3 0h1m2 0h1m2 0h1m4 0h4m1 0h1m2 0h2m2 0h2m2 0h2m2 0h1m3 0h8m1 0h1m1 0h2m1 0h2m1 0h1m1 0h3m1 0h1m1 0h5m30 0h2m1 0h1m15 0h1m12 0h1M334 251.5h2m6 0h1m18 0h3m3 0h3m9 0h2m6 0h1m5 0h1m4 0h2m2 0h2m1 0h2m1 0h2m4 0h1m1 0h1m2 0h1m1 0h2m3 0h1m2 0h2m3 0h1m3 0h5m1 0h2m1 0h1m1 0h5m1 0h5m1 0h8m29 0h2m1 0h1m15 0h1m12 0h1M333 252.5h1m8 0h1m17 0h1m1 0h1m3 0h3m9 0h1m7 0h1m4 0h2m3 0h3m2 0h1m2 0h1m2 0h1m1 0h1m3 0h1m1 0h1m1 0h4m4 0h1m1 0h2m4 0h1m2 0h6m1 0h4m1 0h6m1 0h1m1 0h5m1 0h5m30 0h1m1 0h1m14 0h2m13 0h1M332 253.5h1m8 0h1m17 0h1m1 0h1m3 0h3m8 0h2m8 0h1m2 0h2m3 0h2m1 0h1m2 0h1m2 0h1m2 0h1m1 0h1m2 0h4m1 0h3m4 0h4m4 0h2m1 0h14m1 0h4m1 0h1m1 0h3m1 0h1m1 0h5m30 0h1m2 0h1m12 0h2m14 0h1M331 254.5h1m8 0h1m17 0h1m1 0h1m3 0h3m8 0h1m10 0h3m3 0h2m2 0h1m2 0h1m2 0h1m2 0h1m1 0h1m2 0h1m1 0h1m2 0h2m5 0h1m1 0h1m5 0h1m1 0h15m1 0h4m1 0h8m1 0h1m1 0h2m30 0h2m1 0h1m12 0h1m16 0h1M330 255.5h1m9 0h1m16 0h1m1 0h1m3 0h3m7 0h2m9 0h2m4 0h2m3 0h1m1 0h2m1 0h2m2 0h1m1 0h1m2 0h1m1 0h1m1 0h3m5 0h3m5 0h3m1 0h1m1 0h8m1 0h7m1 0h8m1 0h5m29 0h2m1 0h1m11 0h2m16 0h1M329 256.5h1m9 0h1m17 0h2m3 0h3m7 0h1m8 0h3m1 0h1m1 0h3m2 0h5m2 0h1m3 0h3m1 0h4m1 0h3m4 0h3m5 0h3m2 0h1m1 0h7m1 0h2m1 0h3m1 0h2m1 0h4m1 0h2m1 0h5m29 0h2m1 0h1m11 0h1m17 0h1M328 257.5h1m9 0h1m17 0h2m3 0h3m6 0h2m6 0h3m3 0h3m1 0h4m1 0h2m3 0h1m2 0h3m2 0h1m1 0h1m2 0h2m5 0h3m5 0h3m1 0h2m1 0h7m1 0h2m1 0h3m1 0h2m1 0h4m1 0h2m2 0h4m29 0h1m2 0h1m11 0h1m18 0h1M327 258.5h1m10 0h1m16 0h1m1 0h1m2 0h3m5 0h2m6 0h2m2 0h8m3 0h2m3 0h2m2 0h3m2 0h1m1 0h1m1 0h3m4 0h3m5 0h3m2 0h1m1 0h3m1 0h2m1 0h4m1 0h3m1 0h2m1 0h1m1 0h2m1 0h2m2 0h4m29 0h1m2 0h1m11 0h1m18 0h1M326 259.5h1m10 0h1m16 0h1m1 0h1m2 0h3m5 0h1m5 0h3m1 0h3m1 0h4m2 0h4m3 0h2m3 0h2m2 0h8m4 0h1m1 0h1m4 0h2m1 0h1m1 0h5m1 0h12m1 0h2m1 0h1m1 0h2m1 0h2m2 0h5m27 0h2m1 0h2m11 0h1m19 0h1M325 260.5h1m10 0h1m17 0h2m2 0h3m4 0h2m3 0h3m1 0h3m1 0h3m2 0h4m5 0h2m4 0h2m2 0h1m1 0h1m1 0h1m1 0h1m5 0h3m3 0h2m1 0h7m1 0h5m1 0h7m1 0h1m1 0h2m1 0h1m1 0h3m2 0h5m27 0h2m1 0h1m13 0h1m18 0h1M324 261.5h1m11 0h1m16 0h2m2 0h3m3 0h2m3 0h2m1 0h7m1 0h5m4 0h4m3 0h3m3 0h5m1 0h1m4 0h3m3 0h2m2 0h1m1 0h9m1 0h9m1 0h1m1 0h2m1 0h1m1 0h4m1 0h5m27 0h1m1 0h2m13 0h1m18 0h1M323 262.5h1m11 0h1m16 0h2m2 0h3m2 0h2m2 0h9m1 0h4m3 0h6m4 0h4m4 0h2m1 0h1m1 0h2m4 0h3m2 0h2m2 0h16m1 0h12m1 0h4m1 0h5m26 0h2m1 0h1m14 0h1m18 0h1M321 263.5h2m11 0h1m16 0h2m2 0h3m2 0h1m2 0h8m1 0h3m1 0h6m1 0h1m1 0h9m4 0h2m1 0h4m4 0h3m2 0h2m2 0h24m1 0h5m1 0h4m1 0h5m26 0h4m14 0h1m19 0h1M320 264.5h1m13 0h1m15 0h2m2 0h3m1 0h2m1 0h7m1 0h7m1 0h12m1 0h8m1 0h4m5 0h2m3 0h1m1 0h26m1 0h5m1 0h4m1 0h5m25 0h4m15 0h1m19 0h1M319 265.5h1m13 0h1m15 0h2m2 0h5m1 0h6m1 0h4m5 0h2m1 0h12m4 0h2m1 0h4m5 0h3m2 0h4m1 0h21m1 0h1m1 0h6m1 0h4m1 0h5m25 0h3m15 0h2m19 0h1M318 266.5h1m13 0h1m15 0h1m3 0h4m1 0h9m5 0h7m3 0h2m7 0h4m1 0h4m4 0h4m2 0h4m1 0h6m1 0h10m1 0h6m1 0h1m1 0h15m24 0h3m16 0h1m20 0h1M317 267.5h1m14 0h1m14 0h1m3 0h13m5 0h3m7 0h2m1 0h1m4 0h3m2 0h4m2 0h7m2 0h4m1 0h4m1 0h20m1 0h7m1 0h4m1 0h4m23 0h3m17 0h1m20 0h1M316 268.5h1m14 0h1m14 0h1m3 0h10m1 0h2m3 0h3m7 0h3m3 0h5m3 0h8m2 0h2m4 0h1m1 0h1m1 0h4m1 0h9m1 0h1m1 0h1m1 0h6m1 0h8m1 0h4m1 0h4m22 0h4m17 0h1m21 0h1M315 269.5h1m14 0h1m13 0h2m3 0h9m1 0h2m3 0h3m6 0h3m3 0h4m2 0h6m1 0h2m3 0h3m5 0h7m1 0h6m1 0h2m1 0h11m1 0h4m1 0h3m1 0h4m1 0h4m20 0h5m18 0h1m21 0h1M313 270.5h2m15 0h1m12 0h2m3 0h8m1 0h2m2 0h4m5 0h3m3 0h12m2 0h2m2 0h3m5 0h8m1 0h2m1 0h3m1 0h2m1 0h11m1 0h4m2 0h2m1 0h5m1 0h4m19 0h4m1 0h1m18 0h1m21 0h1M312 271.5h1m16 0h1m12 0h2m2 0h8m1 0h2m2 0h4m5 0h2m2 0h8m2 0h3m3 0h6m5 0h3m1 0h8m1 0h3m1 0h3m1 0h10m1 0h5m1 0h3m1 0h10m18 0h4m2 0h1m19 0h1m20 0h1M310 272.5h2m17 0h1m10 0h2m2 0h8m1 0h2m2 0h4m4 0h10m3 0h4m3 0h5m5 0h4m1 0h9m1 0h7m1 0h16m2 0h14m16 0h4m4 0h1m19 0h1m20 0h1M309 273.5h1m18 0h1m9 0h3m2 0h7m1 0h2m2 0h4m3 0h6m2 0h2m4 0h3m3 0h5m4 0h4m2 0h10m1 0h7m1 0h4m1 0h12m1 0h3m1 0h7m1 0h3m15 0h4m4 0h2m19 0h1m21 0h1M308 274.5h1m18 0h1m8 0h4m1 0h2m1 0h7m2 0h4m3 0h4m4 0h2m3 0h4m1 0h6m4 0h3m2 0h12m1 0h30m1 0h11m14 0h4m5 0h1m20 0h1m21 0h1M306 275.5h2m19 0h1m6 0h4m1 0h10m3 0h1m1 0h1m3 0h4m4 0h2m2 0h8m2 0h2m4 0h2m1 0h4m1 0h4m1 0h47m14 0h4m6 0h1m21 0h1m20 0h1M305 276.5h1m20 0h1m4 0h5m2 0h9m3 0h4m3 0h1m1 0h1m4 0h2m2 0h2m1 0h4m3 0h2m4 0h5m2 0h5m1 0h10m1 0h18m1 0h6m1 0h3m1 0h7m12 0h4m8 0h1m21 0h1m20 0h1M303 277.5h2m20 0h1m1 0h7m2 0h10m2 0h2m1 0h1m3 0h4m3 0h2m1 0h3m1 0h4m3 0h2m4 0h4m2 0h5m1 0h11m1 0h18m1 0h6m1 0h4m1 0h3m1 0h3m11 0h4m9 0h1m21 0h1m20 0h1M302 278.5h1m21 0h7m3 0h10m3 0h1m1 0h2m2 0h2m1 0h1m4 0h4m2 0h4m3 0h2m3 0h5m2 0h36m1 0h6m1 0h4m1 0h2m1 0h4m11 0h4m9 0h2m21 0h1m21 0h1M300 279.5h2m21 0h4m5 0h10m3 0h2m1 0h1m3 0h1m2 0h1m3 0h3m3 0h4m3 0h2m3 0h5m1 0h25m1 0h9m1 0h1m1 0h14m2 0h4m10 0h4m10 0h1m22 0h1m21 0h1M299 280.5h1m22 0h2m7 0h1m1 0h7m4 0h1m2 0h1m2 0h2m1 0h2m2 0h3m2 0h5m2 0h3m3 0h4m2 0h17m1 0h7m1 0h9m2 0h9m1 0h3m1 0h2m1 0h5m9 0h4m10 0h2m22 0h1m21 0h1M297 281.5h2m21 0h3m6 0h10m3 0h2m1 0h2m2 0h1m2 0h1m3 0h2m2 0h2m2 0h1m2 0h2m4 0h4m2 0h7m1 0h8m2 0h6m1 0h10m2 0h9m1 0h3m1 0h2m1 0h5m8 0h5m9 0h3m24 0h1m20 0h1M296 282.5h1m19 0h6m5 0h10m3 0h2m1 0h2m2 0h2m2 0h1m2 0h3m1 0h2m2 0h2m1 0h2m4 0h4m2 0h6m2 0h7m2 0h15m1 0h2m2 0h9m1 0h6m1 0h6m7 0h5m9 0h2m26 0h1m20 0h1M294 283.5h2m17 0h3m2 0h2m6 0h7m1 0h1m4 0h4m3 0h1m2 0h2m1 0h2m1 0h3m2 0h2m1 0h2m4 0h4m2 0h5m2 0h7m1 0h17m1 0h2m1 0h10m1 0h6m1 0h6m7 0h4m10 0h2m27 0h1m21 0h1M292 284.5h2m16 0h3m4 0h2m4 0h6m1 0h1m1 0h2m3 0h3m4 0h2m1 0h2m2 0h1m1 0h3m2 0h2m2 0h1m4 0h2m1 0h1m2 0h5m2 0h7m1 0h20m1 0h10m1 0h6m1 0h6m7 0h4m10 0h2m28 0h1m21 0h1M291 285.5h1m14 0h4m6 0h2m3 0h6m1 0h4m3 0h3m4 0h2m2 0h1m2 0h4m4 0h1m2 0h2m3 0h2m1 0h2m1 0h6m1 0h10m1 0h28m1 0h4m1 0h8m6 0h5m10 0h2m29 0h1m21 0h1M289 286.5h2m12 0h3m9 0h13m1 0h1m3 0h2m6 0h1m2 0h2m1 0h5m3 0h2m2 0h1m3 0h2m2 0h1m1 0h13m1 0h12m1 0h24m1 0h8m6 0h2m1 0h2m10 0h2m31 0h1m20 0h1M288 287.5h1m11 0h3m11 0h7m1 0h2m1 0h4m2 0h2m6 0h2m2 0h1m1 0h3m1 0h2m3 0h1m3 0h1m3 0h1m3 0h14m1 0h5m1 0h5m1 0h25m1 0h9m5 0h2m1 0h2m11 0h1m32 0h1m21 0h1M286 288.5h2m9 0h3m13 0h6m2 0h4m1 0h1m2 0h2m6 0h2m2 0h5m1 0h2m3 0h2m2 0h2m2 0h2m2 0h4m1 0h25m1 0h21m1 0h5m1 0h3m5 0h2m1 0h2m11 0h2m33 0h1m20 0h1M285 289.5h1m9 0h2m14 0h6m2 0h2m1 0h1m1 0h2m1 0h3m5 0h2m2 0h5m2 0h1m3 0h2m3 0h1m2 0h2m3 0h3m1 0h14m1 0h9m1 0h13m1 0h8m1 0h5m1 0h3m6 0h1m1 0h2m12 0h1m34 0h1m20 0h1M283 290.5h2m7 0h3m15 0h5m3 0h6m1 0h4m4 0h2m2 0h3m1 0h2m1 0h2m3 0h1m3 0h2m1 0h2m3 0h2m1 0h1m1 0h2m1 0h10m1 0h38m1 0h3m6 0h4m13 0h1m35 0h1m18 0h2M282 291.5h1m6 0h3m16 0h6m2 0h2m1 0h1m1 0h1m1 0h2m1 0h1m4 0h2m1 0h4m1 0h2m1 0h2m3 0h2m2 0h2m2 0h1m3 0h3m1 0h4m1 0h2m1 0h6m1 0h38m1 0h3m7 0h3m13 0h2m35 0h1m18 0h1M280 292.5h2m5 0h2m18 0h5m3 0h6m1 0h1m1 0h2m3 0h7m2 0h1m2 0h1m4 0h1m2 0h2m3 0h1m2 0h3m2 0h3m1 0h2m1 0h3m1 0h2m1 0h15m1 0h26m8 0h2m14 0h1m37 0h1m17 0h1M279 293.5h1m5 0h2m18 0h6m2 0h2m1 0h1m1 0h1m1 0h4m3 0h3m2 0h2m2 0h2m1 0h2m3 0h2m1 0h2m4 0h1m1 0h2m1 0h1m1 0h2m1 0h1m1 0h2m1 0h2m2 0h1m1 0h3m1 0h29m1 0h8m10 0h1m14 0h1m37 0h1m17 0h1M277 294.5h2m4 0h2m19 0h5m3 0h6m1 0h3m2 0h3m3 0h2m2 0h2m2 0h1m3 0h2m2 0h1m5 0h3m1 0h2m1 0h4m1 0h2m1 0h2m2 0h4m1 0h6m1 0h30m12 0h1m14 0h1m36 0h2m17 0h1M275 295.5h2m4 0h2m19 0h6m2 0h6m1 0h3m1 0h4m3 0h2m2 0h2m2 0h2m3 0h1m2 0h2m4 0h3m2 0h1m2 0h3m1 0h6m1 0h4m1 0h3m1 0h2m1 0h30m14 0h1m13 0h1m36 0h1m17 0h2M274 296.5h1m4 0h2m20 0h5m2 0h6m2 0h2m1 0h2m1 0h2m2 0h2m2 0h2m2 0h2m3 0h2m1 0h2m5 0h3m2 0h1m2 0h3m1 0h4m1 0h1m1 0h6m1 0h3m1 0h29m16 0h1m12 0h2m36 0h1m16 0h2M272 297.5h2m3 0h2m20 0h2m1 0h3m2 0h6m1 0h2m1 0h2m2 0h1m2 0h2m1 0h3m2 0h2m3 0h2m1 0h2m5 0h3m2 0h2m1 0h4m1 0h4m1 0h1m1 0h5m2 0h10m1 0h20m18 0h1m12 0h1m36 0h2m15 0h2M271 298.5h1m3 0h2m21 0h6m1 0h6m1 0h5m3 0h1m1 0h5m3 0h2m3 0h2m1 0h2m5 0h2m1 0h1m2 0h1m1 0h2m1 0h1m2 0h4m1 0h1m1 0h5m2 0h9m1 0h5m1 0h13m20 0h2m11 0h1m36 0h1m15 0h2M269 299.5h2m2 0h2m21 0h6m2 0h6m1 0h3m4 0h6m3 0h3m4 0h1m1 0h2m5 0h2m2 0h1m2 0h3m1 0h2m2 0h4m1 0h1m1 0h5m2 0h8m1 0h4m2 0h2m1 0h9m22 0h2m11 0h1m36 0h1m14 0h2M267 300.5h2m2 0h2m21 0h7m1 0h6m1 0h3m4 0h6m3 0h2m5 0h4m5 0h2m2 0h2m1 0h3m2 0h2m1 0h5m1 0h1m1 0h5m1 0h8m1 0h4m2 0h2m1 0h8m24 0h2m11 0h1m35 0h2m13 0h2M265 301.5h2m2 0h2m22 0h3m1 0h2m2 0h5m2 0h2m4 0h6m3 0h2m5 0h4m4 0h3m2 0h2m1 0h4m2 0h4m1 0h3m1 0h1m1 0h5m1 0h11m1 0h1m1 0h10m27 0h1m11 0h1m35 0h1m14 0h1M263 302.5h2m2 0h2m22 0h7m1 0h6m1 0h2m3 0h7m2 0h3m4 0h4m5 0h2m2 0h3m1 0h4m1 0h3m1 0h1m1 0h6m1 0h16m1 0h11m29 0h2m10 0h1m35 0h1m13 0h2M261 303.5h2m2 0h2m22 0h4m1 0h2m2 0h5m1 0h3m1 0h3m1 0h4m2 0h2m4 0h5m4 0h3m1 0h3m2 0h4m1 0h2m1 0h5m1 0h4m1 0h16m1 0h10m30 0h2m10 0h1m34 0h2m13 0h1M259 304.5h2m2 0h2m22 0h3m1 0h4m1 0h9m1 0h2m2 0h2m1 0h1m1 0h3m3 0h6m4 0h2m1 0h3m3 0h4m1 0h2m2 0h2m1 0h1m2 0h4m1 0h14m1 0h1m1 0h9m31 0h2m10 0h1m34 0h1m13 0h2M257 305.5h2m2 0h2m22 0h3m1 0h4m2 0h11m2 0h2m1 0h4m4 0h2m1 0h2m5 0h5m3 0h5m1 0h2m2 0h5m2 0h4m1 0h10m1 0h3m1 0h10m32 0h2m9 0h2m34 0h1m13 0h1M255 306.5h2m2 0h2m22 0h3m1 0h5m1 0h11m2 0h2m1 0h4m3 0h6m5 0h4m4 0h4m1 0h3m2 0h2m1 0h2m2 0h4m1 0h3m1 0h7m1 0h1m1 0h6m1 0h4m33 0h1m10 0h1m34 0h2m12 0h2M253 307.5h2m2 0h2m21 0h4m2 0h1m1 0h2m2 0h10m3 0h1m1 0h4m2 0h6m6 0h3m5 0h3m1 0h3m2 0h3m1 0h3m1 0h5m1 0h3m1 0h7m1 0h1m1 0h2m1 0h7m33 0h2m10 0h1m34 0h1m13 0h1M251 308.5h2m2 0h2m21 0h4m2 0h5m1 0h11m2 0h5m3 0h5m5 0h4m5 0h3m2 0h2m2 0h3m1 0h3m1 0h6m2 0h3m1 0h7m1 0h1m1 0h2m1 0h2m1 0h3m34 0h2m10 0h1m33 0h2m12 0h2M248 309.5h3m2 0h2m21 0h4m2 0h5m2 0h10m2 0h5m2 0h5m4 0h5m4 0h4m2 0h3m1 0h3m1 0h3m2 0h3m1 0h1m1 0h1m1 0h3m1 0h8m1 0h11m32 0h3m11 0h1m32 0h2m12 0h2M246 310.5h2m2 0h3m20 0h5m3 0h5m1 0h10m3 0h4m2 0h5m2 0h6m3 0h5m2 0h3m1 0h3m2 0h2m1 0h4m2 0h4m1 0h3m1 0h8m1 0h6m1 0h3m32 0h4m11 0h1m30 0h3m13 0h1M243 311.5h3m2 0h2m21 0h4m4 0h6m1 0h10m2 0h4m2 0h4m2 0h6m2 0h6m1 0h4m2 0h2m2 0h8m2 0h2m1 0h1m1 0h3m2 0h7m1 0h7m1 0h2m32 0h2m1 0h1m12 0h1m29 0h2m14 0h2M241 312.5h2m3 0h2m21 0h3m6 0h5m1 0h8m1 0h1m2 0h4m1 0h4m2 0h6m2 0h6m1 0h3m3 0h3m1 0h5m2 0h2m2 0h2m1 0h4m1 0h1m2 0h7m1 0h4m1 0h5m32 0h1m2 0h1m12 0h1m28 0h2m14 0h2M239 313.5h2m2 0h3m21 0h3m6 0h6m1 0h7m1 0h2m1 0h4m1 0h4m2 0h2m1 0h2m1 0h7m1 0h3m3 0h9m2 0h3m2 0h2m1 0h4m2 0h1m2 0h7m1 0h4m1 0h1m1 0h3m32 0h1m1 0h2m12 0h1m27 0h2m15 0h1M236 314.5h3m2 0h2m21 0h3m7 0h6m1 0h7m1 0h12m1 0h9m1 0h3m1 0h3m4 0h5m2 0h2m1 0h3m2 0h8m2 0h2m2 0h12m1 0h1m1 0h2m32 0h4m13 0h1m26 0h2m15 0h2M234 315.5h2m3 0h2m21 0h3m8 0h13m1 0h4m1 0h10m1 0h4m2 0h7m4 0h5m3 0h5m3 0h7m3 0h2m2 0h13m1 0h1m1 0h2m32 0h3m14 0h1m24 0h3m15 0h2M232 316.5h2m2 0h3m21 0h2m9 0h4m1 0h13m1 0h6m1 0h7m2 0h6m6 0h4m2 0h5m4 0h7m3 0h3m1 0h6m1 0h8m1 0h4m31 0h2m17 0h1m22 0h2m17 0h1M229 317.5h3m2 0h2m21 0h3m9 0h4m1 0h13m1 0h5m1 0h7m2 0h6m5 0h5m1 0h6m4 0h3m2 0h2m2 0h4m1 0h11m1 0h10m29 0h4m17 0h1m21 0h2m17 0h2M227 318.5h2m3 0h2m21 0h3m9 0h4m1 0h22m2 0h2m2 0h6m2 0h15m4 0h4m1 0h3m1 0h3m2 0h13m1 0h10m28 0h2m1 0h2m17 0h1m20 0h2m17 0h2M225 319.5h2m2 0h3m21 0h3m10 0h3m1 0h15m1 0h2m1 0h3m1 0h3m1 0h19m2 0h2m4 0h8m2 0h2m2 0h14m1 0h11m26 0h6m18 0h1m19 0h2m17 0h2M223 320.5h2m2 0h2m22 0h3m10 0h3m1 0h15m1 0h2m1 0h2m1 0h3m1 0h17m2 0h5m2 0h9m3 0h2m2 0h27m25 0h5m20 0h1m17 0h3m17 0h2M221 321.5h2m2 0h2m21 0h4m10 0h3m1 0h15m1 0h2m1 0h5m1 0h14m1 0h16m2 0h2m4 0h2m1 0h3m1 0h7m1 0h17m23 0h5m17 0h6m15 0h3m18 0h2M219 322.5h2m2 0h2m21 0h4m10 0h3m1 0h14m2 0h7m2 0h7m1 0h18m5 0h4m4 0h5m1 0h6m2 0h3m1 0h3m1 0h5m1 0h5m22 0h4m16 0h4m18 0h3m19 0h2M217 323.5h2m2 0h2m21 0h4m10 0h2m2 0h14m2 0h7m1 0h3m1 0h3m1 0h5m1 0h7m4 0h9m1 0h17m1 0h8m1 0h5m1 0h5m21 0h5m14 0h4m18 0h4m20 0h2M215 324.5h2m2 0h2m21 0h4m9 0h3m1 0h15m1 0h7m1 0h38m2 0h13m1 0h7m1 0h6m1 0h5m19 0h6m13 0h4m19 0h3m22 0h2M212 325.5h3m2 0h2m21 0h4m7 0h5m1 0h2m1 0h12m1 0h11m1 0h70m18 0h6m12 0h4m20 0h3m23 0h2M210 326.5h2m3 0h2m20 0h5m6 0h6m1 0h19m1 0h17m1 0h3m1 0h38m1 0h3m1 0h13m16 0h7m11 0h4m20 0h4m24 0h2M208 327.5h2m3 0h2m20 0h2m1 0h2m5 0h6m1 0h27m1 0h6m1 0h16m1 0h46m16 0h3m1 0h3m10 0h4m20 0h4m26 0h2M206 328.5h2m3 0h2m20 0h5m4 0h6m1 0h22m1 0h4m1 0h6m1 0h16m1 0h4m1 0h18m1 0h23m15 0h3m1 0h3m9 0h4m18 0h6m28 0h2M204 329.5h2m3 0h2m20 0h4m4 0h29m1 0h12m1 0h5m1 0h58m13 0h4m1 0h3m8 0h4m14 0h8m32 0h2M202 330.5h2m3 0h2m19 0h5m3 0h29m1 0h12m1 0h5m2 0h57m13 0h3m2 0h3m8 0h3m10 0h8m38 0h2M200 331.5h2m3 0h2m19 0h2m1 0h2m2 0h29m1 0h12m1 0h5m2 0h38m4 0h16m12 0h3m1 0h4m7 0h4m8 0h5m44 0h2M198 332.5h2m3 0h2m19 0h2m1 0h33m1 0h17m2 0h3m1 0h19m1 0h21m1 0h12m12 0h3m1 0h3m8 0h3m8 0h4m47 0h2M196 333.5h2m3 0h2m19 0h2m1 0h32m1 0h7m1 0h9m2 0h4m1 0h53m11 0h4m1 0h3m7 0h4m7 0h4m49 0h2M193 334.5h3m3 0h2m19 0h10m1 0h22m2 0h3m1 0h3m1 0h9m1 0h18m1 0h21m2 0h18m10 0h3m2 0h3m6 0h4m7 0h4m51 0h2M191 335.5h2m3 0h3m18 0h33m1 0h8m1 0h7m1 0h20m1 0h14m1 0h26m10 0h3m2 0h3m6 0h3m8 0h3m50 0h5M188 336.5h3m2 0h3m18 0h6m1 0h26m1 0h16m2 0h19m1 0h6m1 0h6m2 0h10m3 0h4m1 0h6m11 0h4m2 0h3m5 0h4m7 0h4m43 0h10M186 337.5h2m3 0h2m18 0h6m1 0h43m2 0h19m1 0h6m1 0h7m1 0h4m1 0h6m2 0h3m1 0h5m12 0h4m3 0h3m5 0h3m7 0h4m38 0h9M184 338.5h2m2 0h3m16 0h7m1 0h29m1 0h13m1 0h20m1 0h15m1 0h11m1 0h8m11 0h5m4 0h3m4 0h4m6 0h4m36 0h6M181 339.5h3m1 0h3m14 0h89m2 0h11m1 0h8m10 0h4m5 0h4m4 0h3m6 0h4m35 0h5M179 340.5h2m2 0h2m11 0h7m1 0h23m1 0h59m2 0h22m7 0h5m5 0h4m4 0h4m6 0h3m34 0h5M176 341.5h3m1 0h3m8 0h6m3 0h23m1 0h40m1 0h19m2 0h23m5 0h4m6 0h4m5 0h3m6 0h4m31 0h6M173 342.5h3m2 0h2m6 0h6m5 0h63m1 0h21m1 0h11m1 0h11m4 0h4m6 0h4m5 0h4m5 0h4m29 0h6M171 343.5h2m3 0h2m4 0h4m7 0h32m2 0h49m2 0h25m3 0h4m6 0h4m5 0h4m5 0h4m27 0h6M168 344.5h3m2 0h3m2 0h4m8 0h31m2 0h49m2 0h11m2 0h8m1 0h4m3 0h3m6 0h4m5 0h4m6 0h3m26 0h5M165 345.5h3m3 0h2m1 0h4m9 0h70m1 0h23m2 0h9m1 0h5m1 0h4m5 0h4m5 0h4m6 0h4m23 0h6M163 346.5h2m4 0h5m9 0h70m1 0h14m2 0h15m1 0h9m1 0h3m6 0h3m4 0h5m6 0h4m21 0h6M160 347.5h3m3 0h5m9 0h68m1 0h14m3 0h16m1 0h13m5 0h4m3 0h4m7 0h4m19 0h6M157 348.5h3m3 0h4m9 0h83m2 0h12m1 0h14m1 0h3m5 0h4m3 0h4m7 0h4m17 0h6M155 349.5h2m2 0h5m9 0h81m3 0h11m1 0h7m1 0h12m4 0h4m3 0h4m7 0h4m15 0h6M152 350.5h3m1 0h5m8 0h79m4 0h18m2 0h9m1 0h3m4 0h4m2 0h5m6 0h5m12 0h7M149 351.5h9m8 0h76m1 0h33m2 0h4m3 0h4m2 0h4m6 0h5m11 0h6M147 352.5h9m6 0h93m3 0h14m2 0h4m3 0h4m2 0h4m6 0h4m9 0h7M144 353.5h9m6 0h78m1 0h11m3 0h14m2 0h6m2 0h5m1 0h5m5 0h5m6 0h7M141 354.5h9m5 0h105m2 0h6m2 0h6m2 0h4m5 0h5m5 0h6M138 355.5h9m5 0h102m2 0h6m2 0h6m4 0h4m5 0h4m3 0h7M135 356.5h8m5 0h98m1 0h9m1 0h7m3 0h7m4 0h5m1 0h6M133 357.5h7m4 0h103m1 0h9m1 0h9m5 0h12M130 358.5h7m3 0h97m1 0h10m3 0h7m7 0h12M128 359.5h5m3 0h102m5 0h8m7 0h12M125 360.5h5m2 0h95m7 0h9m7 0h13M122 361.5h5m1 0h89m5 0h12m3 0h18M120 362.5h60m1 0h21m4 0h31m4 0h7M117 363.5h67m4 0h30m10 0h13M115 364.5h35m3 0h45m3 0h27M113 365.5h88"/>
</g>
<g filter="url(#bw)">
<text class="m" x="309.2" y="30.5">R1067x1</text>
<text class="m" x="219.5" y="420">Percent of Residues (CA)</text>
<text class="m" transform="translate(30 319.5) rotate(-90)">Distance Cutoff, A</text>
</g>
<g font-size="13px" filter="url(#bw2)">
<text x="64.5" y="395" text-anchor="middle" font-family="'Liberation Serif',serif" font-size="14px">0</text>
<text x="181" y="395" text-anchor="middle" font-family="'Liberation Sans',sans-serif" font-size="13.5px" letter-spacing="2">20</text>
<text x="287" y="395" text-anchor="middle" font-family="'Liberation Serif',serif" font-size="14px" letter-spacing="2">40</text>
<text x="392" y="395" text-anchor="middle" font-family="'DejaVu Serif',serif" font-size="13px" letter-spacing="0">60</text>
<text x="498" y="395" text-anchor="middle" font-family="'DejaVu Sans',sans-serif" font-size="13px" letter-spacing="0">80</text>
<text x="610" y="395" text-anchor="middle" font-family="'DejaVu Sans Mono',monospace" font-size="13px" letter-spacing="2">100</text>
<text transform="translate(55 375.5) rotate(-90)" text-anchor="middle" font-family="'Liberation Sans',sans-serif">0</text>
<text transform="translate(55 220.5) rotate(-90)" text-anchor="middle" font-family="'DejaVu Sans Mono',monospace">5</text>
<text transform="translate(55 65.5) rotate(-90)" text-anchor="middle" font-family="'Liberation Mono',monospace" font-size="16px">10</text>
</g>
</svg>
</body></html>
